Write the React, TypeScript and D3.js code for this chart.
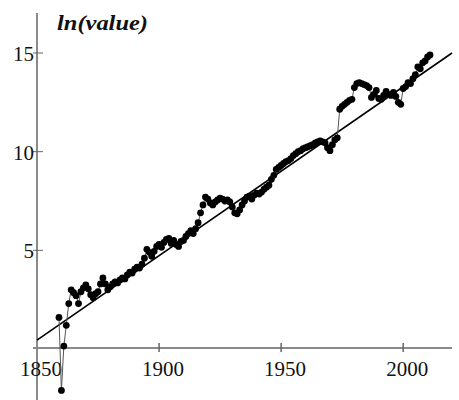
import React from "react";
import * as d3 from "d3";

const years: number[] = d3.range(1859, 2012);
const values: number[] = [
  1.6, -2.1, 0.15, 1.2, 2.3, 3.0, 2.85, 2.7, 2.3, 2.9,
  3.1, 3.25, 3.05, 2.75, 2.6, 2.8, 2.9, 3.3, 3.6, 3.3,
  3.0, 3.15, 3.3, 3.4, 3.35, 3.5, 3.6, 3.55, 3.75, 3.9,
  3.85, 4.05, 4.15, 4.1, 4.3, 4.6, 5.05, 4.9, 4.7, 4.95,
  5.2, 5.3, 5.15, 5.4, 5.55, 5.6, 5.35, 5.5, 5.3, 5.2,
  5.45, 5.5, 5.7, 5.85, 6.0, 5.85, 6.1, 6.4, 6.9, 7.3,
  7.7, 7.6, 7.4, 7.3, 7.45, 7.55, 7.65, 7.6, 7.5, 7.55,
  7.45, 7.2, 6.9, 6.85, 7.05, 7.3, 7.5, 7.7, 7.75, 7.6,
  7.8, 7.9, 7.85, 7.95, 8.1, 8.2, 8.3, 8.6, 8.8, 9.1,
  9.2, 9.3, 9.4, 9.5, 9.55, 9.65, 9.8, 9.9, 10.0, 10.05,
  10.15, 10.2, 10.25, 10.3, 10.35, 10.45, 10.5, 10.55, 10.5, 10.45,
  10.2, 10.05, 10.35, 10.6, 10.7, 12.15, 12.3, 12.4, 12.5, 12.6,
  12.65, 13.25, 13.45, 13.5, 13.45, 13.4, 13.35, 13.25, 12.75, 12.9,
  13.1, 12.7, 12.65, 12.85, 13.05, 12.9, 12.85, 13.0, 12.8, 12.5,
  12.4, 13.2, 13.3, 13.5, 13.45, 13.7, 13.9, 14.3, 14.2, 14.5,
  14.6, 14.8, 14.9,
];
const trendYears: number[] = [1850, 2020];
const trendValues: number[] = [0.45, 15.0];
const xTicks: number[] = [1850, 1900, 1950, 2000];
const yTicks: number[] = [5, 10, 15];
const title = "ln(value)";

export default function App() {
  const x = d3.scaleLinear().domain([1850, 2020]).range([37, 452]);
  const y = d3.scaleLinear().domain([0, 15]).range([349, 53]);
  const pts = years.map((yr, i) => [yr, values[i]] as [number, number]);
  const line = d3
    .line<[number, number]>()
    .x((d) => x(d[0]))
    .y((d) => y(d[1]));
  const trend = trendYears.map((yr, i) => [yr, trendValues[i]] as [number, number]);
  const font = "'Liberation Serif', 'Times New Roman', serif";
  return (
    <svg
      width={459}
      height={400}
      style={{ position: "absolute", left: 0, top: 0, background: "#fff" }}
    >
      <line x1={x(1850)} x2={x(1850)} y1={13} y2={400} stroke="#8a8a8a" strokeWidth={2} />
      <line x1={33} x2={452} y1={y(0) - 1} y2={y(0) - 1} stroke="#8a8a8a" strokeWidth={2} />
      {yTicks.map((t) => (
        <g key={"y" + t}>
          <line x1={x(1850) - 4} x2={x(1850) + 6} y1={y(t)} y2={y(t)} stroke="#666" strokeWidth={1} />
          <text x={34} y={y(t) + 8} textAnchor="end" fontFamily={font} fontSize={21} fill="#111">
            {t}
          </text>
        </g>
      ))}
      {xTicks.map((t) => (
        <g key={"x" + t}>
          {t !== 1850 && (
            <line x1={x(t)} x2={x(t)} y1={343} y2={352} stroke="#666" strokeWidth={1.5} />
          )}
          <text x={x(t) + 4} y={376} textAnchor="middle" fontFamily={font} fontSize={21} fill="#111">
            {t}
          </text>
        </g>
      ))}
      <text
        x={57}
        y={30}
        fontFamily={font}
        fontSize={21}
        fontWeight="bold"
        fontStyle="italic"
        textLength={91}
        lengthAdjust="spacingAndGlyphs"
        fill="#111"
      >
        {title}
      </text>
      <path d={line(trend) || ""} stroke="#000" strokeWidth={1.6} fill="none" />
      <path d={line(pts) || ""} stroke="#555" strokeWidth={1} fill="none" />
      {pts.map((d, i) => (
        <circle key={i} cx={x(d[0])} cy={y(d[1])} r={3.4} fill="#000" />
      ))}
    </svg>
  );
}
